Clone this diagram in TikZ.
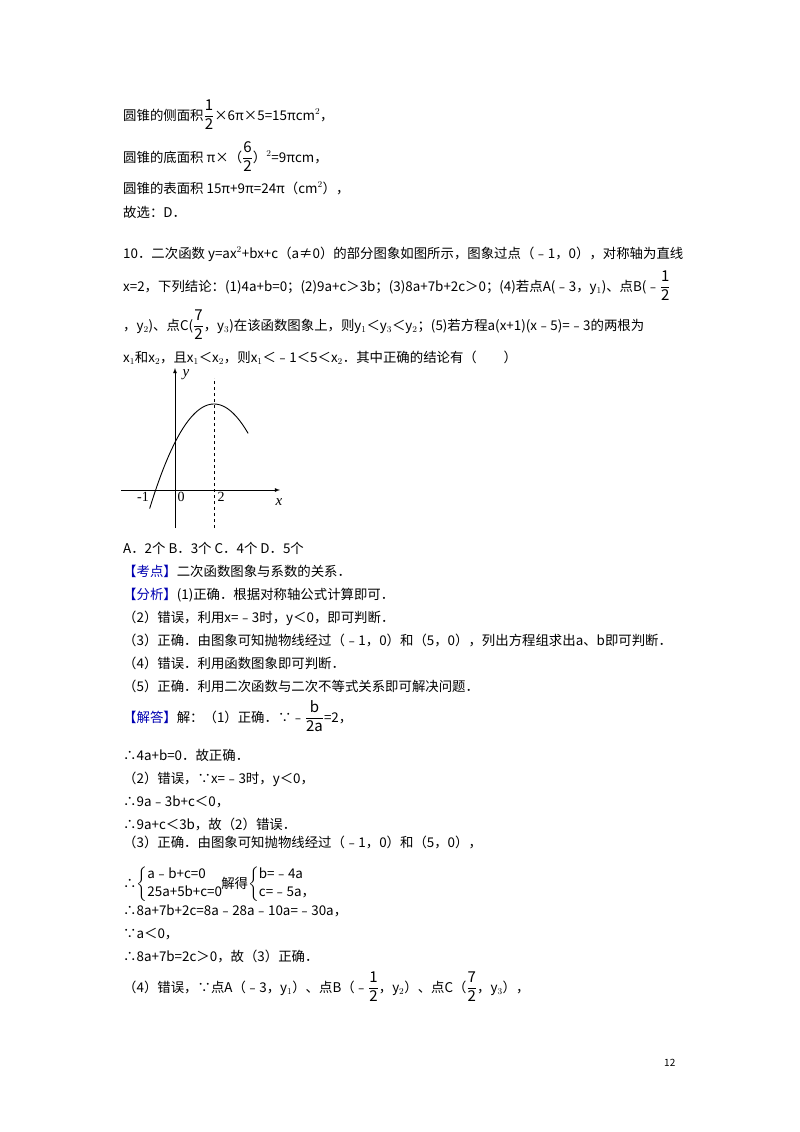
\documentclass[tikz,border=0pt]{standalone}
\usepackage{amsmath}
\usepackage{fontspec}
\setmainfont{Noto Sans CJK SC}
\newfontfamily\serif{Liberation Serif}
\begin{document}
\begin{tikzpicture}[x=1pt,y=-1pt,
  txt/.style={anchor=base west,inner sep=0pt,font=\fontsize{13.4}{16}\selectfont},
  glab/.style={inner sep=0pt,font=\serif\fontsize{14}{16}\selectfont},
  ax/.style={line width=0.8pt,-latex}]
\useasboundingbox[fill=white] (0,0) rectangle (800,1132);
\newcommand\fr[2]{$\dfrac{\text{\fontsize{15}{17}\selectfont #1}}{\text{\fontsize{15}{17}\selectfont #2}}$}
\node[txt] (l1) at (123,120) {圆锥的侧面积\fr{1}{2}×6π×5=15πcm$^2$，};
\node[txt] (l2) at (123,162) {圆锥的底面积 π×（\fr{6}{2}）$^2$=9πcm，};
\node[txt] (l3) at (123,193) {圆锥的表面积 15π+9π=24π（cm$^2$），};
\node[txt] (l4) at (123,217) {故选：D．};
\node[txt] (l5) at (123,258) {10．二次函数 y=ax$^2$+bx+c（a≠0）的部分图象如图所示，图象过点（﹣1，0），对称轴为直线};
\node[txt] (l6) at (123,291) {x=2，下列结论：(1)4a+b=0；(2)9a+c＞3b；(3)8a+7b+2c＞0；(4)若点A(﹣3，y$_1$)、点B(﹣\fr{1}{2}};
\node[txt] (l7) at (123,330) {，y$_2$)、点C(\fr{7}{2}，y$_3$)在该函数图象上，则y$_1$＜y$_3$＜y$_2$；(5)若方程a(x+1)(x﹣5)=﹣3的两根为};
\node[txt] (l8) at (123,362) {x$_1$和x$_2$，且x$_1$＜x$_2$，则x$_1$＜﹣1＜5＜x$_2$．其中正确的结论有（　　）};
% graph
\coordinate (xs) at (121,490); \coordinate (xe) at (280,490);
\coordinate (ys) at (175,528); \coordinate (ye) at (175,368);
\draw[ax] (xs) -- (xe);
\draw[ax] (ys) -- (ye);
\coordinate (ds) at (214,528); \coordinate (de) at (214,378);
\draw[dashed,line width=0.7pt] (ds) -- (de);
\draw[line width=0.9pt,domain=-1.3:3.75,samples=60,smooth] plot ({175+19.5*\x},{404+9.6*(\x-2)*(\x-2)});
\node[glab,font=\serif\itshape\fontsize{15}{16}\selectfont] (ylab) at (186,375) {y};
\node[glab,font=\serif\itshape\fontsize{15}{16}\selectfont] (xlab) at (279,502) {x};
\node[glab] (m1) at (143,497) {-1};
\node[glab] (z0) at (181,497) {0};
\node[glab] (t2) at (221,497) {2};
\node[txt] (l9) at (123,553) {A．2个 B．3个 C．4个 D．5个};
\node[txt] (l10) at (123,576) {\textcolor{blue!70!black}{【考点】}二次函数图象与系数的关系．};
\node[txt] (l11) at (123,599) {\textcolor{blue!70!black}{【分析】}(1)正确．根据对称轴公式计算即可．};
\node[txt] (l12) at (123,622) {（2）错误，利用x=﹣3时，y＜0，即可判断．};
\node[txt] (l13) at (123,645) {（3）正确．由图象可知抛物线经过（﹣1，0）和（5，0），列出方程组求出a、b即可判断．};
\node[txt] (l14) at (123,668) {（4）错误．利用函数图象即可判断．};
\node[txt] (l15) at (123,691) {（5）正确．利用二次函数与二次不等式关系即可解决问题．};
\node[txt] (l16) at (123,722) {\textcolor{blue!70!black}{【解答】}解：（1）正确．∵﹣\fr{b}{2a}=2，};
\node[txt] (l17) at (123,760) {∴4a+b=0．故正确．};
\node[txt] (l18) at (123,783) {（2）错误，∵x=﹣3时，y＜0，};
\node[txt] (l19) at (123,806) {∴9a﹣3b+c＜0，};
\node[txt] (l20) at (123,829) {∴9a+c＜3b，故（2）错误．};
\node[txt] (l21) at (123,847) {（3）正确．由图象可知抛物线经过（﹣1，0）和（5，0），};
\node[txt] (l22) at (123,888) {∴$\left\{\begin{array}{@{}l@{}}\text{a﹣b+c=0}\\[2pt]\text{25a+5b+c=0}\end{array}\right.$\hspace{-2pt}解得$\left\{\begin{array}{@{}l@{}}\text{b=﹣4a}\\[2pt]\text{c=﹣5a，}\end{array}\right.$};
\node[txt] (l23) at (123,915) {∴8a+7b+2c=8a﹣28a﹣10a=﹣30a，};
\node[txt] (l24) at (123,938) {∵a＜0，};
\node[txt] (l25) at (123,961) {∴8a+7b=2c＞0，故（3）正确．};
\node[txt] (l26) at (123,992) {（4）错误，∵点A（﹣3，y$_1$）、点B（﹣\fr{1}{2}，y$_2$）、点C（\fr{7}{2}，y$_3$），};
\node[txt,font=\fontsize{10}{12}\selectfont] (pg) at (664,1066) {12};
\end{tikzpicture}
\end{document}
